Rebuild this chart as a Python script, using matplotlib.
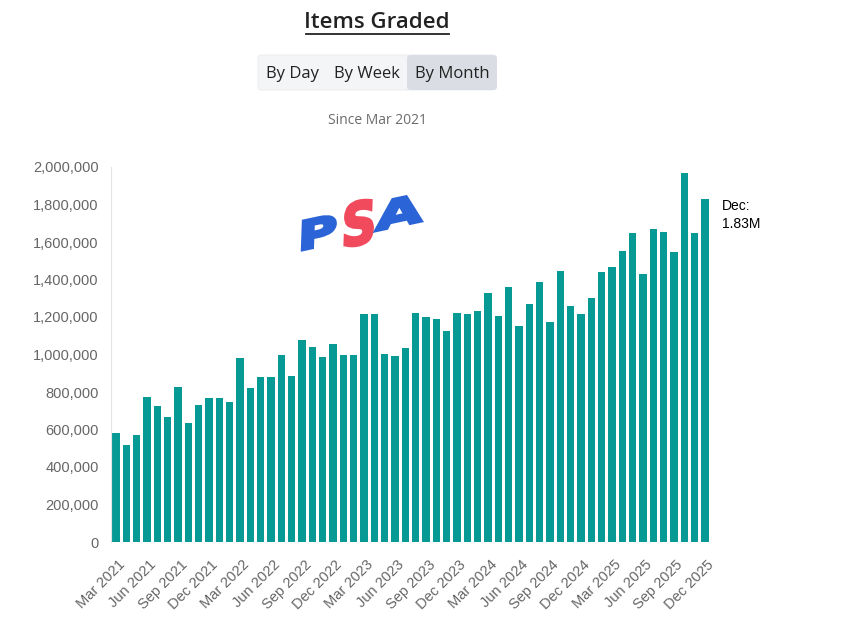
import numpy as np
import matplotlib
matplotlib.use("Agg")
import matplotlib.pyplot as plt
import matplotlib.ticker as mtick
import matplotlib.transforms as mtransforms
from matplotlib.patches import FancyBboxPatch, PathPatch
from matplotlib.lines import Line2D
from matplotlib.textpath import TextPath
from matplotlib.font_manager import FontProperties

plt.rcParams["font.family"] = ["Liberation Sans", "DejaVu Sans"]

# monthly items graded, Mar 2021 .. Dec 2025
months = [f"{m} {y}" for y in range(2021, 2026)
          for m in ["Jan", "Feb", "Mar", "Apr", "May", "Jun",
                    "Jul", "Aug", "Sep", "Oct", "Nov", "Dec"]][2:]
items = [
    580000, 518000, 570000, 775000, 725000, 665000, 825000, 635000, 730000, 770000,
    770000, 745000, 980000, 820000, 880000, 880000, 995000, 887000, 1075000, 1040000,
    985000, 1055000, 1000000, 1000000, 1217000, 1217000, 1005000, 990000, 1035000, 1223000,
    1200000, 1190000, 1126000, 1223000, 1216000, 1230000, 1330000, 1204000, 1360000, 1153000,
    1268000, 1387000, 1172000, 1443000, 1257000, 1214000, 1300000, 1438000, 1466000, 1551000,
    1649000, 1429000, 1668000, 1654000, 1549000, 1968000, 1650000, 1830000,
]
buttons = ["By Day", "By Week", "By Month"]

W, H = 868, 617
fig = plt.figure(figsize=(W / 100, H / 100), dpi=100)


def fx(px):
    return px / W


def fy(py):
    return 1 - py / H


ax = fig.add_axes([fx(111), fy(542), fx(710) - fx(111), fy(167) - fy(542)])
x = np.arange(len(items))
ax.bar(x, items, width=0.71, color="#079a94", zorder=2)
ax.set_xlim(-0.5, len(items) - 0.5)
ax.set_ylim(0, 2000000)
ax.yaxis.set_major_locator(mtick.MultipleLocator(200000))
ax.yaxis.set_major_formatter(mtick.StrMethodFormatter("{x:,.0f}"))
ax.set_xticks(x[::3])
ax.set_xticklabels(months[::3], rotation=45, ha="right", rotation_mode="anchor")
ax.tick_params(axis="both", length=0, labelsize=10.5, labelcolor="#666666")
ax.tick_params(axis="y", pad=9)
ax.tick_params(axis="x", pad=11)
shift = mtransforms.ScaledTranslation(0.02, 0, fig.dpi_scale_trans)
for lab in ax.get_xticklabels():
    lab.set_transform(lab.get_transform() + shift)
for s in ["top", "right", "bottom"]:
    ax.spines[s].set_visible(False)
ax.spines["left"].set_color("#e4e4e4")

# last value annotation
ax.annotate(f"Dec:\n{items[-1] / 1e6:.2f}M", xy=(x[-1], items[-1]),
            xytext=(12, 0), textcoords="offset points", va="top", ha="left",
            fontsize=10, color="black", linespacing=1.35, annotation_clip=False)

# title with underline
fig.text(fx(377), fy(23), "Items Graded", ha="center", va="center",
         fontsize=16, fontweight="semibold", color="#222222", family="Open Sans")
fig.add_artist(Line2D([fx(306), fx(449)], [fy(34), fy(34)], color="#222222", lw=1.3))

# button group
fig.patches.append(FancyBboxPatch((fx(258), fy(90)), fx(238), fy(55) - fy(90),
                                  boxstyle="round,pad=0,rounding_size=0.005",
                                  transform=fig.transFigure, fc="#f4f5f7", ec="#eceef1", lw=0.8))
fig.patches.append(FancyBboxPatch((fx(407), fy(90)), fx(90), fy(55) - fy(90),
                                  boxstyle="round,pad=0,rounding_size=0.005",
                                  transform=fig.transFigure, fc="#dadee4", ec="none"))
for label, cx in zip(buttons, [292, 367, 452]):
    fig.text(fx(cx), fy(74), label, ha="center", va="center", fontsize=12,
             color="#222222", family="Open Sans")

fig.text(fx(377), fy(121), "Since Mar 2021", ha="center", va="center",
         fontsize=10, color="#6b6b6b", family="Open Sans")

# PSA logo, letters stretched and tilted in pixel space
logo_font = FontProperties(family="DejaVu Sans", weight="bold")
for ch, cx, cy, w, h, col in [("P", 319, 232, 33, 28, "#2b64d6"),
                              ("S", 359, 223, 28, 43, "#f04a5c"),
                              ("A", 399, 212, 47, 27, "#2b64d6")]:
    tp = TextPath((0, 0), ch, size=1, prop=logo_font)
    ext = tp.get_extents()
    tr = (mtransforms.Affine2D()
          .translate(-(ext.x0 + ext.x1) / 2, -(ext.y0 + ext.y1) / 2)
          .scale(w / ext.width, h / ext.height)
          .skew_deg(14, 0)
          .rotate_deg(12)
          .translate(cx, H - cy))
    fig.add_artist(PathPatch(tr.transform_path(tp), fc=col, ec=col, lw=2.2,
                             joinstyle="miter",
                             transform=mtransforms.IdentityTransform()))

fig.savefig("out.png", dpi=100)
